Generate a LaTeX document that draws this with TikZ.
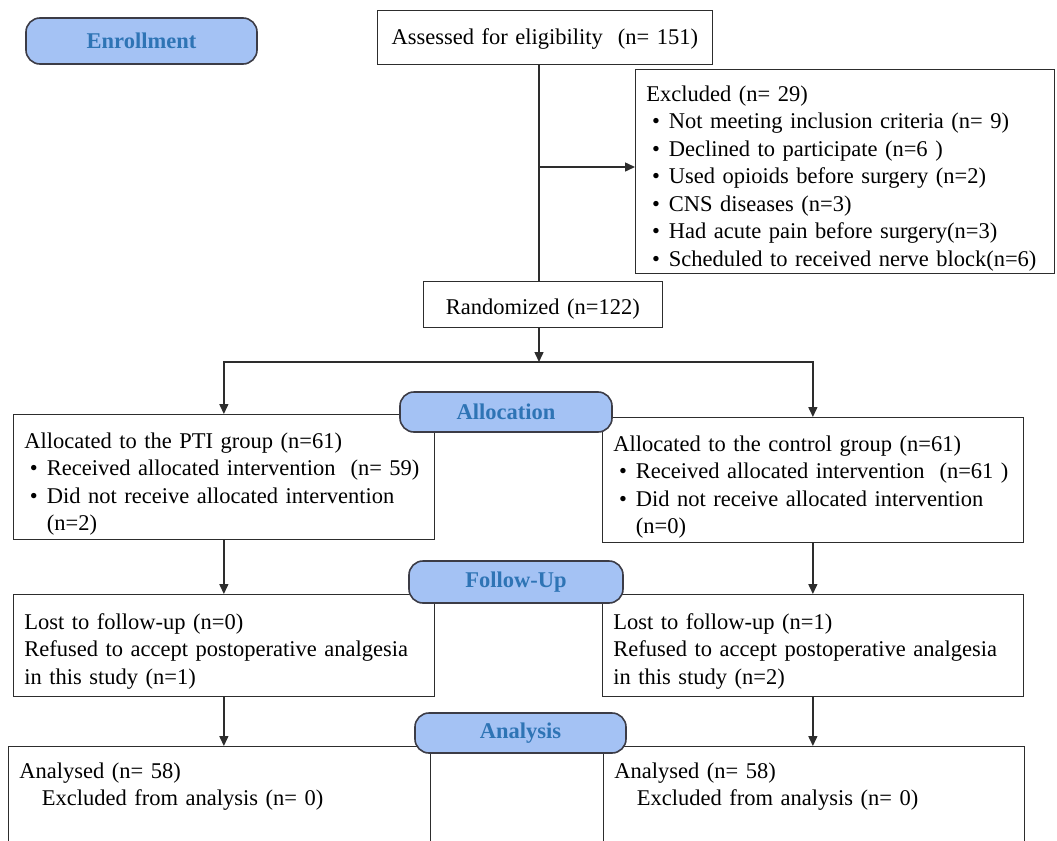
\documentclass[tikz,border=0pt]{standalone}
\usepackage{fontspec}
\setmainfont{Liberation Serif}
\usepackage{xcolor}
\usepackage{tikz}
\usetikzlibrary{arrows.meta}

\definecolor{stagefill}{RGB}{164,194,244}
\definecolor{stagetext}{RGB}{46,116,181}
\definecolor{stageline}{RGB}{60,60,70}
\definecolor{boxline}{RGB}{45,45,45}

\newcommand{\boxfont}{\fontsize{22.5}{27.5}\selectfont}
\newcommand{\bul}{\hspace*{0.25em}\textbullet\hspace{0.4em}}
\newcommand{\bulind}{\hspace*{1em}}

\tikzset{
  box/.style={draw=boxline, line width=0.75pt, anchor=north west, align=left,
    inner xsep=11pt, inner ysep=0pt, font=\boxfont},
  stage/.style={draw=stageline, fill=stagefill, text=stagetext, rounded corners=7pt,
    line width=0.8pt, inner sep=0pt, font=\boxfont\bfseries},
  arr/.style={draw=boxline, line width=0.75pt, -{Triangle[length=5pt,width=4.5pt]}},
  link/.style={draw=boxline, line width=0.75pt}
}

\begin{document}
\begin{tikzpicture}[x=1pt, y=-1pt, scale=0.5, transform shape]
\useasboundingbox (0,0) rectangle (1057,841);
% Enrollment
\node[stage, minimum width=231pt, minimum height=46pt] (enrol) at (141.5,41) {Enrollment};
\node[box, align=center, text width=313pt, text height=34pt, text depth=20pt] (assess) at (377,10)
  {Assessed for eligibility\ \ (n= 151)};
\node[box, text width=397pt, text height=32pt, text depth=172pt] (excl) at (635,69)
  {Excluded (n= 29)\\
   \bul Not meeting inclusion criteria (n= 9)\\
   \bul Declined to participate (n=6 )\\
   \bul Used opioids before surgery (n=2)\\
   \bul CNS diseases (n=3)\\
   \bul Had acute pain before surgery(n=3)\\
   \bul Scheduled to received nerve block(n=6)};
\node[box, align=center, text width=217pt, text height=33pt, text depth=13pt] (rand) at (423,281)
  {Randomized (n=122)};
% Allocation
\node[box, text width=399pt, text height=34pt, text depth=91pt] (pti) at (13,414)
  {Allocated to the PTI group (n=61)\\
   \bul Received allocated intervention\ \ (n= 59)\\
   \bul Did not receive allocated intervention\\
   \bulind(n=2)};
\node[box, text width=399pt, text height=34pt, text depth=91pt] (ctrl) at (602,417)
  {Allocated to the control group (n=61)\\
   \bul Received allocated intervention\ \ (n=61 )\\
   \bul Did not receive allocated intervention\\
   \bulind(n=0)};
% Follow-up
\node[box, text width=399pt, text height=35pt, text depth=67pt] (fupL) at (13,594)
  {Lost to follow-up (n=0)\\
   Refused to accept postoperative analgesia\\
   in this study (n=1)};
\node[box, text width=399pt, text height=35pt, text depth=67pt] (fupR) at (602,594)
  {Lost to follow-up (n=1)\\
   Refused to accept postoperative analgesia\\
   in this study (n=2)};
% Analysis
\node[box, text width=400pt, text height=32pt, text depth=110pt] (anaL) at (8,746)
  {Analysed (n= 58)\\
   \bulind Excluded from analysis (n= 0)};
\node[box, text width=399pt, text height=32pt, text depth=110pt] (anaR) at (603,746)
  {Analysed (n= 58)\\
   \bulind Excluded from analysis (n= 0)};
% Stage labels
\node[stage, minimum width=212pt, minimum height=40pt] (alloc) at (506,412) {Allocation};
\node[stage, minimum width=214pt, minimum height=42pt] (follow) at (516,582) {Follow-Up};
\node[stage, minimum width=211pt, minimum height=40pt] (analys) at (520.5,733) {Analysis};
% Connectors
\coordinate (trunk) at (539,167);
\coordinate (fork) at (539,362);
\draw[link] (assess.south -| fork) -- (rand.north -| fork);
\draw[arr] (trunk) -- (trunk -| excl.west);
\draw[arr] (rand.south -| fork) -- (fork);
\draw[arr] (fork) -| (pti.north);
\draw[arr] (fork) -| (ctrl.north);
\draw[arr] (pti.south) -- (fupL.north);
\draw[arr] (ctrl.south) -- (fupR.north);
\draw[arr] (fupL.south) -- (fupL.south |- anaL.north);
\draw[arr] (fupR.south) -- (fupR.south |- anaR.north);
\end{tikzpicture}
\end{document}
